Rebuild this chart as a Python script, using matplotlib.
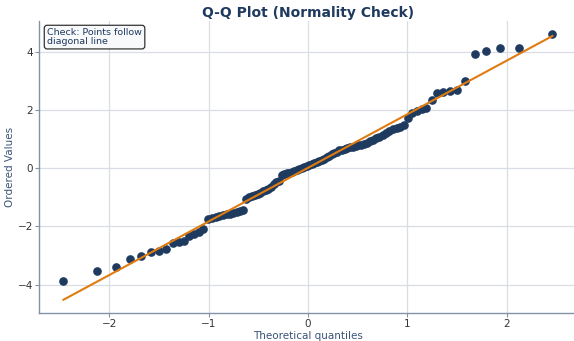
import numpy as np
import matplotlib
matplotlib.use("Agg")
import matplotlib.pyplot as plt
from statistics import NormalDist

# Ordered sample values (sorted ascending, n=100)
ordered_values = [
    -3.88, -3.53, -3.40, -3.11, -3.00, -2.89, -2.85, -2.78, -2.58, -2.54,
    -2.50, -2.34, -2.26, -2.18, -2.10, -1.76, -1.70, -1.66, -1.63, -1.60,
    -1.58, -1.56, -1.53, -1.51, -1.48, -1.45, -1.05, -1.00, -0.96, -0.92,
    -0.88, -0.84, -0.80, -0.76, -0.70, -0.63, -0.55, -0.49, -0.43, -0.25,
    -0.21, -0.18, -0.15, -0.12, -0.09, -0.06, -0.03, 0.01, 0.05, 0.08,
    0.11, 0.14, 0.17, 0.20, 0.24, 0.28, 0.32, 0.37, 0.42, 0.48,
    0.53, 0.57, 0.61, 0.64, 0.67, 0.70, 0.72, 0.74, 0.76, 0.78,
    0.80, 0.83, 0.86, 0.92, 0.97, 1.02, 1.08, 1.15, 1.22, 1.29,
    1.34, 1.38, 1.42, 1.47, 1.72, 1.90, 1.96, 2.02, 2.07, 2.33,
    2.57, 2.60, 2.65, 2.67, 2.98, 3.91, 4.03, 4.11, 4.13, 4.60,
]

title = "Q-Q Plot (Normality Check)"
x_label = "Theoretical quantiles"
y_label = "Ordered Values"
note_text = "Check: Points follow\ndiagonal line"

# Theoretical normal quantiles (Filliben plotting positions, as scipy.stats.probplot)
n = len(ordered_values)
m = (np.arange(1, n + 1) - 0.3175) / (n + 0.365)
m[-1] = 0.5 ** (1.0 / n)
m[0] = 1 - m[-1]
nd = NormalDist()
theoretical = np.array([nd.inv_cdf(p) for p in m])
ordered = np.array(ordered_values)
slope, intercept = np.polyfit(theoretical, ordered, 1)

navy = "#1f3a5f"
orange = "#e07b10"

fig = plt.figure(figsize=(5.74, 3.41), dpi=100)
ax = fig.add_axes([0.068, 0.082, 0.937, 0.857])

ax.plot(theoretical, ordered, "o", color=navy, markersize=5.2, zorder=3)
ax.plot(theoretical, slope * theoretical + intercept, color=orange, linewidth=1.5, zorder=4)

ax.set_title(title, fontsize=10, fontweight="bold", color=navy, pad=3)
ax.set_xlabel(x_label, fontsize=7.5, color="#3b5375", labelpad=1)
ax.set_ylabel(y_label, fontsize=7.5, color="#3b5375", labelpad=2)

ax.grid(True, color="#d9dde5", linewidth=0.9)
ax.set_axisbelow(True)
for s in ["top", "right"]:
    ax.spines[s].set_visible(False)
for s in ["left", "bottom"]:
    ax.spines[s].set_color("#8393a8")
    ax.spines[s].set_linewidth(1.0)
ax.tick_params(labelsize=7.5, colors="#333333", length=3, width=0.8, pad=1.5)
ax.tick_params(axis="both", color="#8393a8")
ax.set_xticks([-2, -1, 0, 1, 2])
ax.set_yticks([-4, -2, 0, 2, 4])

ax.text(0.015, 0.975, note_text, transform=ax.transAxes, fontsize=6.8,
        color=navy, va="top", ha="left", linespacing=1.0,
        bbox=dict(boxstyle="round,pad=0.3", facecolor="#f7f9fb",
                  edgecolor="#333333", linewidth=0.9))

fig.savefig("out.png", dpi=100)
